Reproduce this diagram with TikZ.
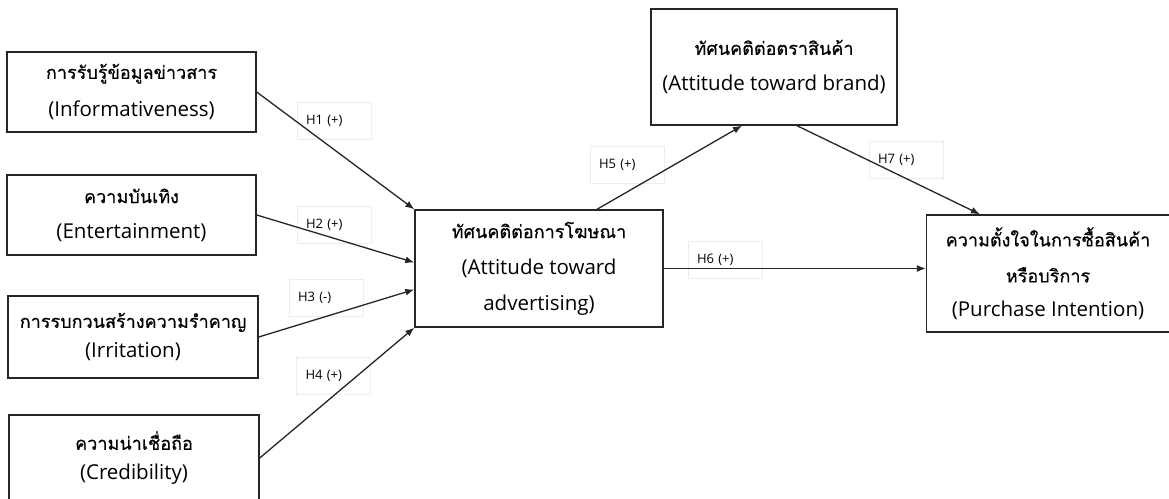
\documentclass[tikz,border=0pt]{standalone}
\usepackage{fontspec}
\setmainfont{Open Sans}
\newfontfamily\thaifont[Script=Thai, Scale=0.88, FakeBold=0.5]{Loma}
\usepackage{tikz}
\usetikzlibrary{arrows.meta, positioning, calc}

\begin{document}
\begin{tikzpicture}[x=1pt, y=-1pt,
        varbox/.style={draw=black!85, line width=1.4pt, align=center, inner sep=0pt, minimum width=249pt, minimum height=80pt, font=\fontsize{20.5}{30}\selectfont},
        hyp/.style={-{Latex[length=9pt, width=7pt]}, line width=1.3pt, black!85},
        hlabel/.style={draw=black!7, line width=0.8pt, text width=56pt, inner xsep=9pt, inner ysep=0pt, minimum height=37pt, align=left, font=\fontsize{13}{14}\selectfont}]

        % Page frame
        \fill[white] (0,0) rectangle (1169,498);
        \useasboundingbox (0,0) rectangle (1169,498);

        % Antecedents (Left)
        \node[varbox] (info) at (131.5, 92) {{\thaifont การรับรู้ข้อมูลข่าวสาร}\\[8pt](Informativeness)};
        \node[varbox] (ent) at (131.5, 215) {{\thaifont ความบันเทิง}\\[5pt](Entertainment)};
        \node[varbox, minimum width=250pt, minimum height=82pt] (irr) at (133, 337) {{\thaifont การรบกวนสร้างความรำคาญ}\\(Irritation)};
        \node[varbox, minimum width=250pt, minimum height=86pt] (cred) at (134, 458) {{\thaifont ความน่าเชื่อถือ}\\(Credibility)};

        % Mediator and outcomes
        \node[varbox, minimum width=248pt, minimum height=117pt] (ad) at (539, 268.5) {{\thaifont ทัศนคติต่อการโฆษณา}\\[6pt](Attitude toward\\[6pt]advertising)};
        \node[varbox, minimum width=246pt, minimum height=116pt] (brand) at (774, 67) {{\thaifont ทัศนคติต่อตราสินค้า}\\[6pt](Attitude toward brand)};
        \node[varbox, minimum width=243pt, minimum height=117pt] (pi) at (1048, 273.5) {{\thaifont ความตั้งใจในการซื้อสินค้า}\\[6pt]{\thaifont หรือบริการ}\\[4pt](Purchase Intention)};

        % Hypothesis labels
        \node[hlabel] (l1) at (334, 120.5) {H1 (+)};
        \node[hlabel] (l2) at (334, 224.5) {H2 (+)};
        \node[hlabel] (l3) at (326, 298) {H3 (-)};
        \node[hlabel] (l4) at (333.5, 376) {H4 (+)};
        \node[hlabel] (l5) at (627, 165) {H5 (+)};
        \node[hlabel] (l6) at (725, 260) {H6 (+)};
        \node[hlabel] (l7) at (906, 160) {H7 (+)};

        % Paths into attitude toward advertising
        \draw[hyp] (info.east) -- (ad.north west);
        \draw[hyp] (ent.east) -- ($(ad.west)+(0,-6)$);
        \draw[hyp] (irr.east) -- ($(ad.west)+(0,21)$);
        \draw[hyp] (cred.east) -- (ad.south west);

        % Paths to brand and purchase intention
        \draw[hyp] ($(ad.north)+(58,0)$) -- ($(brand.south)+(-32,0)$);
        \draw[hyp] (ad.east) -- (ad.east -| pi.west);
        \draw[hyp] ($(brand.south)+(23,0)$) -- ($(pi.north)+(-68,0)$);

    \end{tikzpicture}
\end{document}
